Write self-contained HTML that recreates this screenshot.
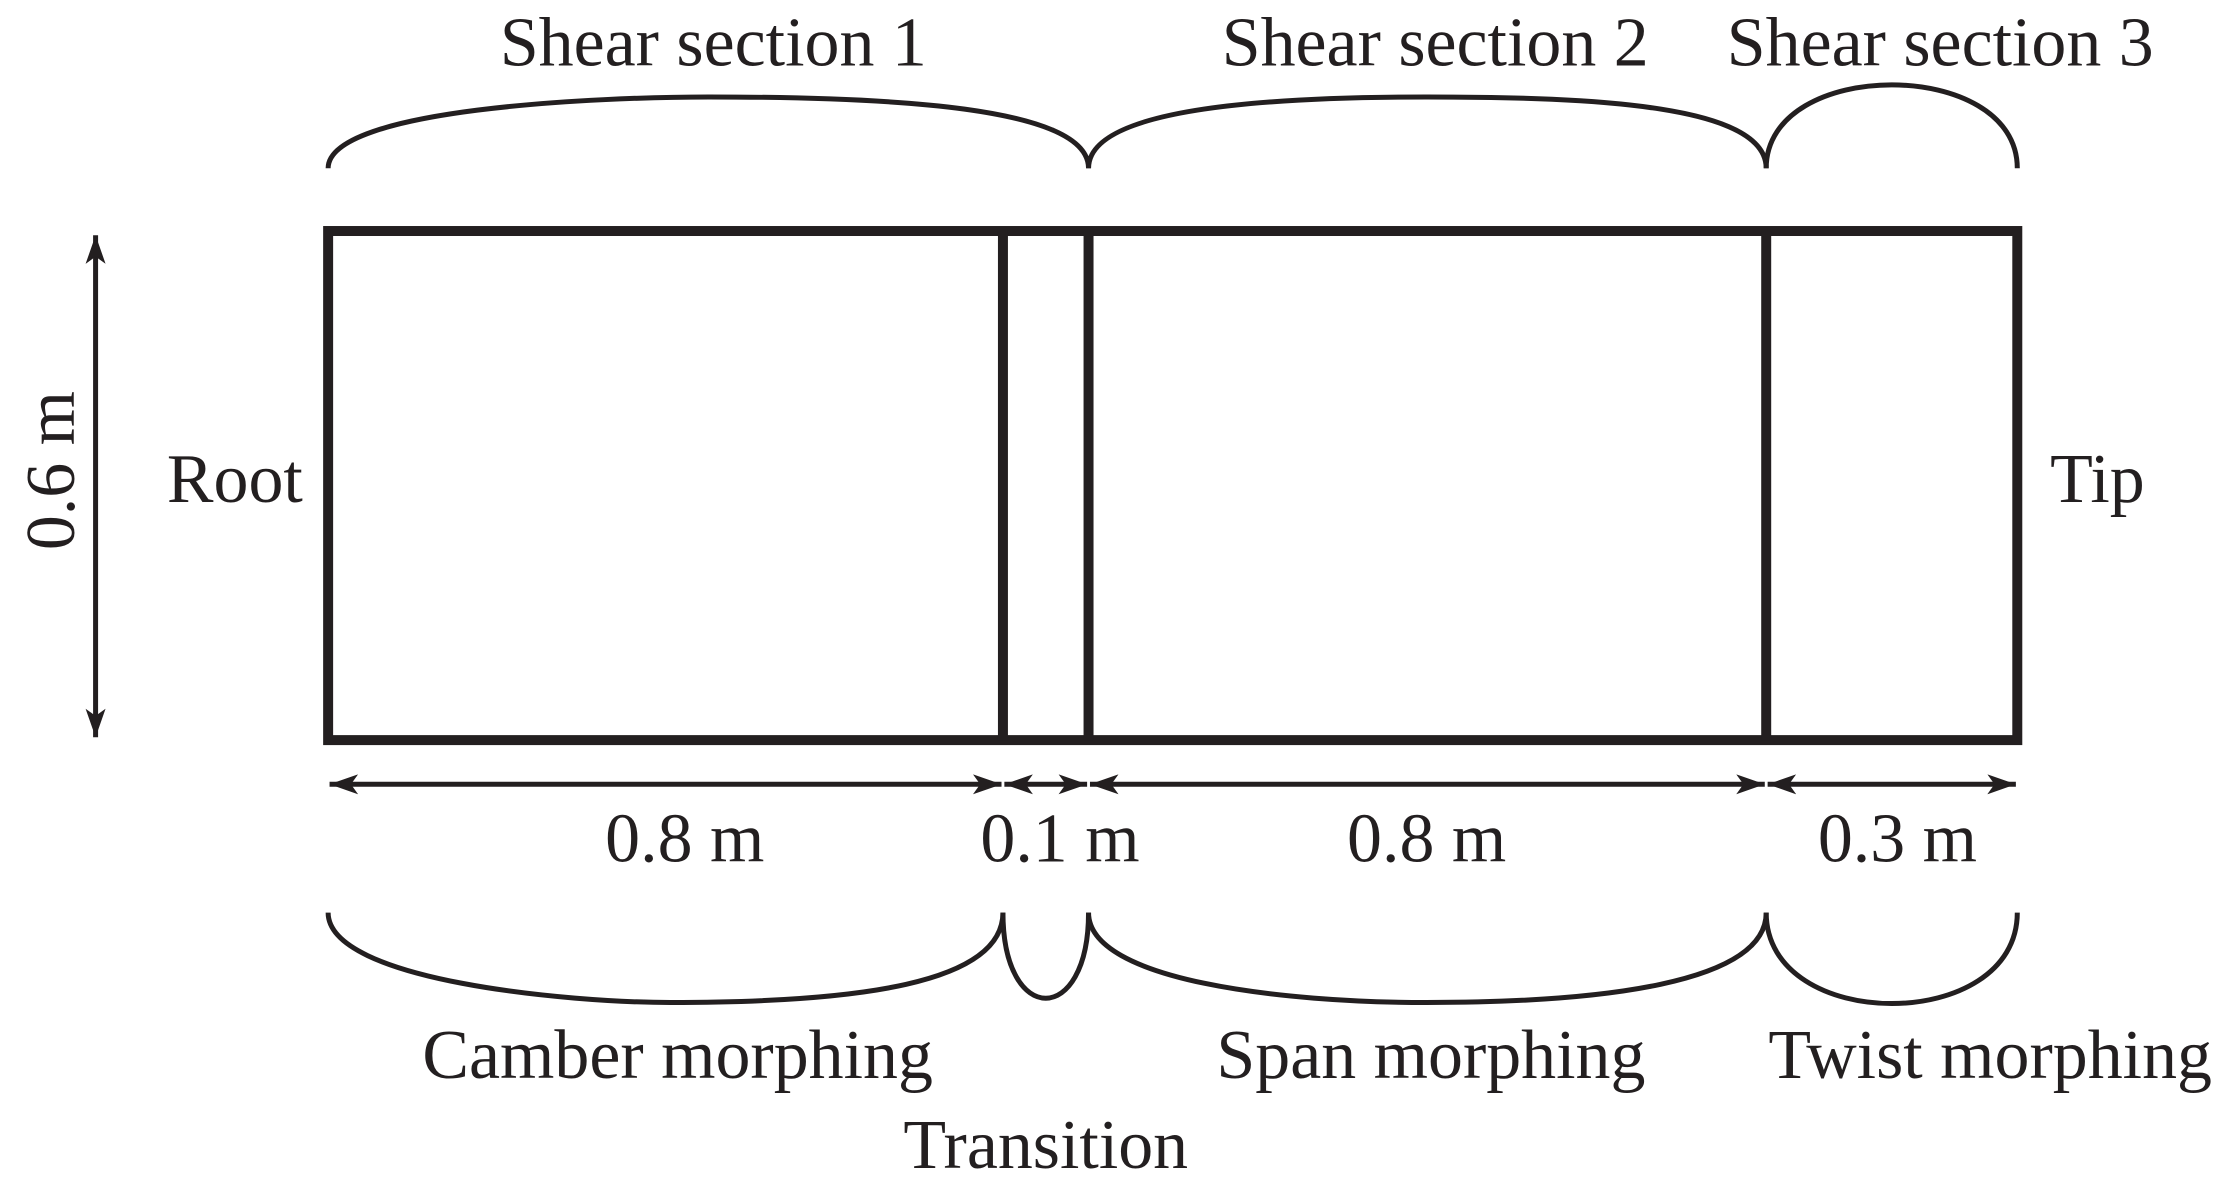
<!DOCTYPE html>
<html><head><meta charset="utf-8"><style>
html,body{margin:0;padding:0;background:#fff;}
svg{display:block;}
text{font-family:"Liberation Serif",serif;font-size:49px;fill:#231f20;}
</style></head><body>
<svg width="2237" height="1195" viewBox="0 0 1568 838" preserveAspectRatio="none" xmlns="http://www.w3.org/2000/svg">
<defs>
<marker id="b" viewBox="0 0 20 14" refX="20" refY="7" markerWidth="20" markerHeight="14" orient="auto-start-reverse" markerUnits="userSpaceOnUse">
<path d="M0,0 L20,7 L0,14 L5,7 z" fill="#231f20"/></marker>
</defs>
<g fill="none" stroke="#231f20">
<rect x="230" y="162" width="1184" height="357" stroke-width="7"/>
<line x1="703" y1="162" x2="703" y2="519" stroke-width="7"/>
<line x1="763" y1="162" x2="763" y2="519" stroke-width="7"/>
<line x1="1238" y1="162" x2="1238" y2="519" stroke-width="7"/>
<g stroke-width="3.5">
<line x1="67" y1="165" x2="67" y2="517" marker-start="url(#b)" marker-end="url(#b)"/>
<line x1="231" y1="550" x2="702" y2="550" marker-start="url(#b)" marker-end="url(#b)"/>
<line x1="704" y1="550" x2="762" y2="550" marker-start="url(#b)" marker-end="url(#b)"/>
<line x1="764" y1="550" x2="1237" y2="550" marker-start="url(#b)" marker-end="url(#b)"/>
<line x1="1239" y1="550" x2="1413" y2="550" marker-start="url(#b)" marker-end="url(#b)"/>
<path d="M230,118 C230,76 420,68 497,68 C620,68 763,74 763,118"/>
<path d="M763,118 C763,74 900,68 1000,68 C1120,68 1238,74 1238,118"/>
<path d="M1238,118 C1238,40 1414,40 1414,118"/>
<path d="M230,640 C230,688 400,703 470,703 C600,703 703,690 703,640"/>
<path d="M703,640 C703,720 763,720 763,640"/>
<path d="M763,640 C763,688 900,703 1000,703 C1120,703 1238,690 1238,640"/>
<path d="M1238,640 C1238,725 1414,725 1414,640"/>
</g>
</g>
<text x="500" y="46" text-anchor="middle">Shear section 1</text>
<text x="1006" y="46" text-anchor="middle">Shear section 2</text>
<text x="1360" y="46" text-anchor="middle">Shear section 3</text>
<text x="117" y="352">Root</text>
<text x="1437" y="352">Tip</text>
<text transform="translate(52,330) rotate(-90)" text-anchor="middle">0.6 m</text>
<text x="480" y="604" text-anchor="middle">0.8 m</text>
<text x="743" y="604" text-anchor="middle">0.1 m</text>
<text x="1000" y="604" text-anchor="middle">0.8 m</text>
<text x="1330" y="604" text-anchor="middle">0.3 m</text>
<text x="475" y="756" text-anchor="middle">Camber morphing</text>
<text x="1003" y="756" text-anchor="middle">Span morphing</text>
<text x="1395" y="756" text-anchor="middle">Twist morphing</text>
<text x="733" y="819" text-anchor="middle">Transition</text>
</svg>
</body></html>
